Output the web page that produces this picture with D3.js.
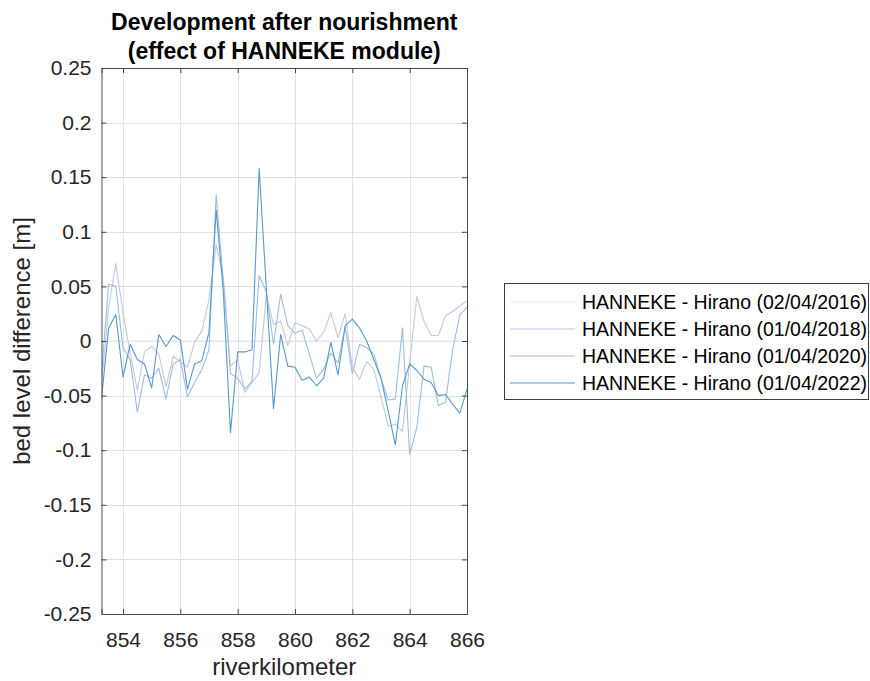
<!DOCTYPE html>
<html>
<head>
<meta charset="utf-8">
<script src="https://cdn.jsdelivr.net/npm/d3@7/dist/d3.min.js"></script>
<style>
  html, body { margin: 0; padding: 0; background: #fff; }
  svg { display: block; font-family: "Liberation Sans", Arial, Helvetica, sans-serif; }
</style>
</head>
<body>
<svg id="chart" width="870" height="681"></svg>
<script>
// River kilometres of the cross-sections (every 250 m)
const riverKm = [853.25, 853.5, 853.75, 854, 854.25, 854.5, 854.75, 855, 855.25, 855.5,
  855.75, 856, 856.25, 856.5, 856.75, 857, 857.25, 857.5, 857.75, 858,
  858.25, 858.5, 858.75, 859, 859.25, 859.5, 859.75, 860, 860.25, 860.5,
  860.75, 861, 861.25, 861.5, 861.75, 862, 862.25, 862.5, 862.75, 863,
  863.25, 863.5, 863.75, 864, 864.25, 864.5, 864.75, 865, 865.25, 865.5,
  865.75, 866];

// Bed level difference [m] relative to the reference survey
const diff2016 = [0, 0, 0, 0, 0, 0, 0, 0, 0, 0,
  0, 0, 0, 0, 0, 0, 0, 0, 0, 0,
  0, 0, 0, 0, 0, 0, 0, 0, 0, 0,
  0, 0, 0, 0, 0, 0, 0, 0, 0, 0,
  0, 0, 0, 0, 0, 0, 0, 0, 0, 0,
  0, 0];
const diff2018 = [-0.040, 0.030, 0.071, 0.026, -0.011, -0.045, -0.010, -0.005, -0.012, -0.042,
  -0.014, -0.019, -0.024, -0.001, 0.009, 0.038, 0.088, 0.058, -0.023, -0.017,
  -0.047, -0.038, -0.029, 0.042, 0.015, 0.018, -0.004, 0.017, 0.014, 0.011,
  0.000, 0.008, 0.026, 0.003, 0.025, -0.024, -0.035, -0.019, -0.026, -0.051,
  -0.078, -0.076, -0.083, -0.020, 0.041, 0.018, 0.005, 0.005, 0.023, 0.027,
  0.032, 0.037];
const diff2020 = [-0.030, 0.052, 0.050, -0.006, -0.017, -0.065, -0.031, -0.034, -0.025, -0.053,
  -0.021, -0.017, -0.051, -0.038, -0.026, -0.008, 0.134, 0.055, -0.030, -0.034,
  -0.044, -0.037, 0.060, 0.045, -0.003, 0.043, 0.014, 0.007, 0.010, -0.012,
  -0.034, -0.026, -0.011, -0.020, 0.013, -0.030, -0.003, -0.006, -0.012, -0.034,
  -0.054, -0.053, 0.012, -0.104, -0.079, -0.023, -0.024, -0.059, -0.056, -0.008,
  0.024, 0.031];
const diff2022 = [-0.053, 0.012, 0.024, -0.033, -0.003, -0.017, -0.021, -0.043, 0.006, -0.005,
  0.005, 0.001, -0.044, -0.021, -0.018, 0.008, 0.120, 0.045, -0.084, -0.010,
  -0.010, -0.008, 0.158, 0.048, -0.062, 0.006, -0.023, -0.024, -0.036, -0.033,
  -0.041, -0.034, -0.001, -0.031, 0.014, 0.020, 0.012, 0.000, -0.017, -0.034,
  -0.064, -0.095, -0.041, -0.021, -0.027, -0.035, -0.038, -0.050, -0.049, -0.058,
  -0.066, -0.044];

const seriesNames = [
  "HANNEKE - Hirano (02/04/2016)",
  "HANNEKE - Hirano (01/04/2018)",
  "HANNEKE - Hirano (01/04/2020)",
  "HANNEKE - Hirano (01/04/2022)"
];
const seriesValues = [diff2016, diff2018, diff2020, diff2022];
const seriesColors = ["#e9e9f1", "#c3c7e2", "#9bbddf", "#5598ce"];

const xTicks = [854, 856, 858, 860, 862, 864, 866];
const yTicks = [-0.25, -0.2, -0.15, -0.1, -0.05, 0, 0.05, 0.1, 0.15, 0.2, 0.25];
const yTickLabels = ["-0.25", "-0.2", "-0.15", "-0.1", "-0.05", "0", "0.05", "0.1", "0.15", "0.2", "0.25"];

const titleLines = ["Development after nourishment", "(effect of HANNEKE module)"];
const xLabel = "riverkilometer";
const yLabel = "bed level difference [m]";

// ---- layout ----
const plot = { left: 101.5, right: 467, top: 68, bottom: 614 };
const svg = d3.select("#chart");

const x = d3.scaleLinear().domain([853.25, 866]).range([plot.left, plot.right]);
const y = d3.scaleLinear().domain([-0.25, 0.25]).range([plot.bottom, plot.top]);

const axisColor = "#4a4a4a";
const gridColor = "#e2e2e2";
const tickLen = 5;

// grid
const grid = svg.append("g");
grid.selectAll("line.vg").data(xTicks).join("line")
  .attr("x1", d => Math.round(x(d)) + 0.5).attr("x2", d => Math.round(x(d)) + 0.5)
  .attr("y1", plot.top).attr("y2", plot.bottom)
  .attr("stroke", gridColor).attr("stroke-width", 1);
grid.selectAll("line.hg").data(yTicks).join("line")
  .attr("y1", d => Math.round(y(d)) + 0.5).attr("y2", d => Math.round(y(d)) + 0.5)
  .attr("x1", plot.left).attr("x2", plot.right)
  .attr("stroke", gridColor).attr("stroke-width", 1);

// data lines
svg.append("clipPath").attr("id", "plotclip")
  .append("rect").attr("x", plot.left).attr("y", plot.top)
  .attr("width", plot.right - plot.left).attr("height", plot.bottom - plot.top);

const line = d3.line().x((d, i) => x(riverKm[i])).y(d => y(d));
const lines = svg.append("g").attr("clip-path", "url(#plotclip)");
seriesValues.forEach((vals, k) => {
  lines.append("path")
    .datum(vals)
    .attr("d", line)
    .attr("fill", "none")
    .attr("stroke", seriesColors[k])
    .attr("stroke-width", 1.1)
    .attr("stroke-linejoin", "round");
});

// axes (box with inward ticks on all sides)
const bottomAxis = d3.axisBottom(x).tickValues(xTicks).tickSize(-tickLen).tickPadding(18)
  .tickFormat(d3.format("d"));
const topAxis = d3.axisTop(x).tickValues(xTicks).tickSize(-tickLen).tickFormat("");
const leftAxis = d3.axisLeft(y).tickValues(yTicks).tickSize(-tickLen).tickPadding(10)
  .tickFormat((d, i) => yTickLabels[i]);
const rightAxis = d3.axisRight(y).tickValues(yTicks).tickSize(-tickLen).tickFormat("");

function styleAxis(g) {
  g.select(".domain").attr("stroke", axisColor).attr("stroke-width", 1);
  g.selectAll(".tick line").attr("stroke", axisColor).attr("stroke-width", 1);
  g.selectAll(".tick text").attr("fill", "#262626").attr("font-size", "21px")
    .attr("font-family", "\"Liberation Sans\", Arial, Helvetica, sans-serif");
}

svg.append("g").attr("transform", `translate(0,${plot.bottom})`).call(bottomAxis).call(styleAxis);
svg.append("g").attr("transform", `translate(0,${plot.top})`).call(topAxis).call(styleAxis);
svg.append("g").attr("transform", `translate(${plot.left},0)`).call(leftAxis).call(styleAxis);
svg.append("g").attr("transform", `translate(${plot.right},0)`).call(rightAxis).call(styleAxis);

// title
const cx = (plot.left + plot.right) / 2;
svg.append("g").selectAll("text").data(titleLines).join("text")
  .attr("x", cx).attr("y", (d, i) => 29.5 + i * 29.5)
  .attr("text-anchor", "middle")
  .attr("font-size", "23px").attr("font-weight", "bold").attr("fill", "#000")
  .text(d => d);

// axis labels
svg.append("text")
  .attr("x", cx).attr("y", 675)
  .attr("text-anchor", "middle").attr("font-size", "24px").attr("fill", "#262626")
  .text(xLabel);
svg.append("text")
  .attr("transform", `translate(30,${(plot.top + plot.bottom) / 2}) rotate(-90)`)
  .attr("text-anchor", "middle").attr("font-size", "24px").attr("fill", "#262626")
  .text(yLabel);

// legend
const legend = { left: 504, top: 283, width: 364, height: 116, rowY0: 302, rowStep: 27 };
const lg = svg.append("g");
lg.append("rect")
  .attr("x", legend.left + 0.5).attr("y", legend.top + 0.5)
  .attr("width", legend.width).attr("height", legend.height)
  .attr("fill", "#fff").attr("stroke", "#3c3c3c").attr("stroke-width", 1);
const rows = lg.selectAll("g.row").data(seriesNames).join("g")
  .attr("transform", (d, i) => `translate(0,${legend.rowY0 + i * legend.rowStep})`);
rows.append("line")
  .attr("x1", 510).attr("x2", 575).attr("y1", 0).attr("y2", 0)
  .attr("stroke", (d, i) => seriesColors[i]).attr("stroke-width", 1.1);
rows.append("text")
  .attr("x", 582).attr("y", 0).attr("dy", "0.35em")
  .attr("font-size", "19.5px").attr("fill", "#000")
  .text(d => d);
</script>
</body>
</html>
